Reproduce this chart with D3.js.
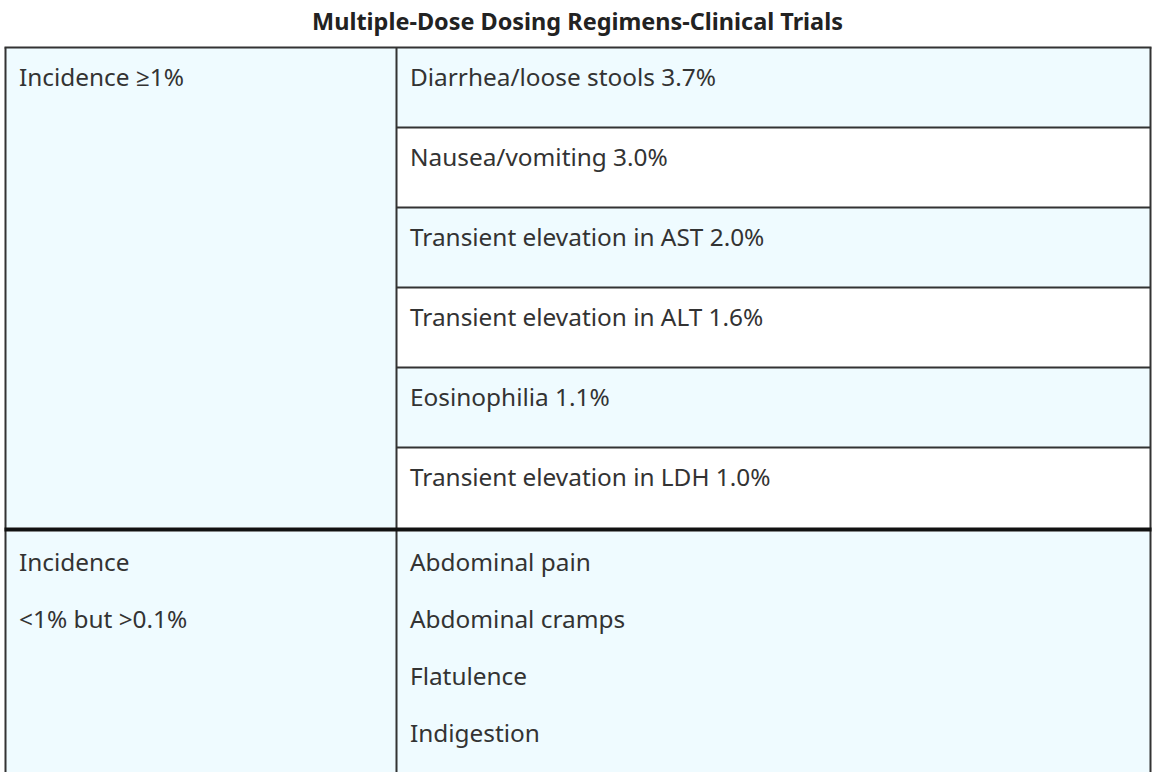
<!DOCTYPE html>
<html>
<head>
<meta charset="utf-8">
<script src="https://cdn.jsdelivr.net/npm/d3@7"></script>
<style>
  html, body { margin: 0; padding: 0; background: #ffffff; overflow: hidden; }
  svg { display: block; }
</style>
</head>
<body>
<svg id="chart" width="1164" height="772"></svg>
<script>
// ---- data ----
const title = "Multiple-Dose Dosing Regimens-Clinical Trials";
const groupLabels = [["Incidence \u22651%"], ["Incidence", "<1% but >0.1%"]];
const frequentEvents = [
  "Diarrhea/loose stools 3.7%",
  "Nausea/vomiting 3.0%",
  "Transient elevation in AST 2.0%",
  "Transient elevation in ALT 1.6%",
  "Eosinophilia 1.1%",
  "Transient elevation in LDH 1.0%"
];
const lessFrequentEvents = [
  "Abdominal pain",
  "Abdominal cramps",
  "Flatulence",
  "Indigestion"
];

// ---- layout ----
const tLeft = 5.5, tRight = 1150.5, tTop = 47.5, divX = 396.5;
const rowH = 80;
const sec1Bottom = tTop + rowH * frequentEvents.length;
const sec2Top = sec1Bottom + 4;
const sec2Bottom = 800;
const fill = "#effbff";
const ink = "#333333";
const font = "'Noto Sans', 'Open Sans', sans-serif";

const svg = d3.select("#chart");

const y = d3.scaleBand()
  .domain(d3.range(frequentEvents.length))
  .range([tTop, sec1Bottom]);

// title
const t = svg.append("text")
  .attr("x", 577.5).attr("y", 30)
  .attr("text-anchor", "middle")
  .attr("font-family", font).attr("font-weight", "bold")
  .attr("font-size", 22).attr("fill", "#222")
  .text(title);
const tw = t.node().getComputedTextLength();
t.attr("font-size", 22 * 531 / tw);

// section 1 left cell
svg.append("rect").attr("x", tLeft).attr("y", tTop)
  .attr("width", divX - tLeft).attr("height", sec1Bottom - tTop)
  .attr("fill", fill);

// section 1 right cells
svg.selectAll("rect.r1").data(frequentEvents).join("rect")
  .attr("class", "r1")
  .attr("x", divX).attr("y", (d, i) => y(i))
  .attr("width", tRight - divX).attr("height", y.bandwidth())
  .attr("fill", (d, i) => i % 2 === 0 ? fill : "#ffffff");

// section 2 background
svg.append("rect").attr("x", tLeft).attr("y", sec2Top)
  .attr("width", tRight - tLeft).attr("height", sec2Bottom - sec2Top)
  .attr("fill", fill);

// grid lines
const g = svg.append("g").attr("stroke", ink).attr("stroke-width", 2).attr("fill", "none");
g.append("line").attr("x1", tLeft - 1).attr("x2", tRight + 1).attr("y1", tTop).attr("y2", tTop);
g.append("line").attr("x1", tLeft).attr("x2", tLeft).attr("y1", tTop).attr("y2", sec2Bottom);
g.append("line").attr("x1", tRight).attr("x2", tRight).attr("y1", tTop).attr("y2", sec2Bottom);
g.append("line").attr("x1", divX).attr("x2", divX).attr("y1", tTop).attr("y2", sec2Bottom);
g.selectAll("line.row").data(d3.range(1, frequentEvents.length)).join("line")
  .attr("class", "row")
  .attr("x1", divX).attr("x2", tRight)
  .attr("y1", i => y(i)).attr("y2", i => y(i));
// thick separator
svg.append("rect").attr("x", tLeft - 1).attr("y", sec1Bottom)
  .attr("width", tRight - tLeft + 2).attr("height", 4).attr("fill", "#111");

// texts
const fs = 22;
svg.selectAll("text.c1").data(frequentEvents).join("text")
  .attr("class", "c1 body")
  .attr("x", 410).attr("y", (d, i) => y(i) + 38)
  .attr("font-family", font).attr("font-size", fs).attr("fill", ink)
  .text(d => d);

svg.selectAll("text.l1").data(groupLabels[0]).join("text")
  .attr("class", "l1 body")
  .attr("x", 19).attr("y", tTop + 38)
  .attr("font-family", font).attr("font-size", fs).attr("fill", ink)
  .text(d => d);

const lineGap = 57;
svg.selectAll("text.l2").data(groupLabels[1]).join("text")
  .attr("class", "l2 body")
  .attr("x", 19).attr("y", (d, i) => sec2Top + 39 + i * lineGap)
  .attr("font-family", font).attr("font-size", fs).attr("fill", ink)
  .text(d => d);

svg.selectAll("text.c2").data(lessFrequentEvents).join("text")
  .attr("class", "c2 body")
  .attr("x", 410).attr("y", (d, i) => sec2Top + 39 + i * lineGap)
  .attr("font-family", font).attr("font-size", fs).attr("fill", ink)
  .text(d => d);

// scale body text so first entry matches reference width (306px)
const probe = svg.select("text.c1").node().getComputedTextLength();
svg.selectAll("text.body").attr("font-size", fs * 306 / probe);
</script>
</body>
</html>
